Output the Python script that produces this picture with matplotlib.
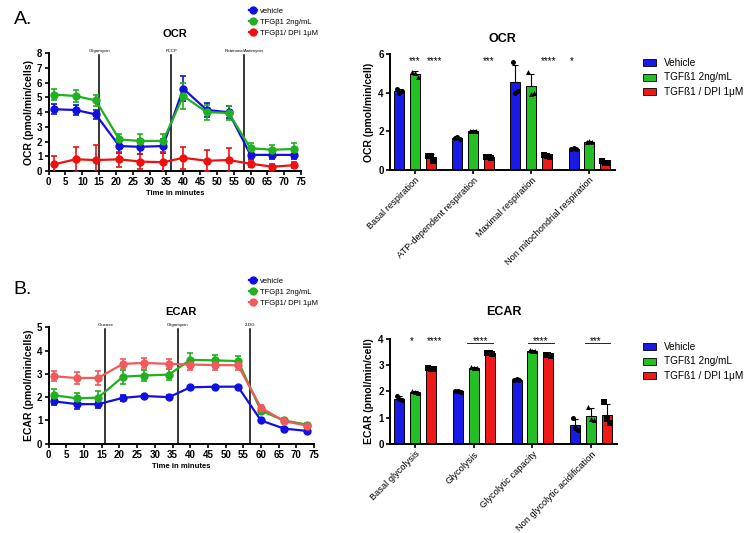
import matplotlib
matplotlib.use("Agg")
import matplotlib.pyplot as plt
from matplotlib.lines import Line2D
from matplotlib.patches import Patch
import numpy as np

plt.rcParams['font.family'] = ['Liberation Sans', 'DejaVu Sans']

# ---------------- data ----------------
time = [1.5, 8, 14, 21, 27, 34, 40, 47, 53.5, 60, 66.5, 73]

ocr_veh = [4.2, 4.15, 3.85, 1.7, 1.65, 1.7, 5.6, 4.15, 4.0, 1.1, 1.1, 1.1]
ocr_veh_err = [0.35, 0.35, 0.3, 0.5, 0.5, 0.5, 0.85, 0.45, 0.4, 0.3, 0.3, 0.3]
ocr_tgf = [5.2, 5.1, 4.8, 2.15, 2.05, 2.05, 5.1, 4.0, 3.95, 1.55, 1.45, 1.5]
ocr_tgf_err = [0.35, 0.4, 0.4, 0.4, 0.45, 0.5, 0.9, 0.5, 0.5, 0.35, 0.35, 0.4]
ocr_dpi = [0.45, 0.8, 0.75, 0.8, 0.65, 0.6, 0.9, 0.7, 0.75, 0.5, 0.3, 0.4]
ocr_dpi_err = [0.6, 0.85, 1.0, 0.5, 0.5, 0.7, 0.75, 0.7, 0.8, 0.2, 0.2, 0.2]

ecar_veh = [1.82, 1.7, 1.7, 1.97, 2.05, 2.0, 2.42, 2.45, 2.45, 1.0, 0.65, 0.55]
ecar_veh_err = [0.15, 0.2, 0.15, 0.12, 0.05, 0.08, 0.05, 0.05, 0.05, 0.05, 0.05, 0.05]
ecar_tgf = [2.08, 1.95, 1.98, 2.88, 2.93, 2.97, 3.6, 3.58, 3.55, 1.42, 1.0, 0.82]
ecar_tgf_err = [0.25, 0.25, 0.3, 0.3, 0.25, 0.25, 0.28, 0.25, 0.2, 0.15, 0.1, 0.08]
ecar_dpi = [2.9, 2.82, 2.83, 3.43, 3.47, 3.43, 3.4, 3.38, 3.37, 1.55, 0.97, 0.78]
ecar_dpi_err = [0.22, 0.25, 0.3, 0.22, 0.22, 0.22, 0.25, 0.2, 0.2, 0.1, 0.08, 0.05]

ocr_inject_t = [15, 36.5, 58]
ocr_inject_lbl = ["Oligomycin", "FCCP", "Rotenone/Antimycin"]
ecar_inject_t = [16, 36.5, 57]
ecar_inject_lbl = ["Glucose", "Oligomycin", "2-DG"]

line_labels = ["vehicle", "TFG\u03b21 2ng/mL", "TFG\u03b21/ DPI 1\u03bcM"]
bar_labels = ["Vehicle", "TGF\u00df1 2ng/mL", "TGF\u00df1 / DPI 1\u03bcM"]

ocr_cats = ["Basal respiration", "ATP-dependent respiration",
            "Maximal respiration", "Non mitochondrial respiration"]
ocr_bar_mean = [[4.1, 1.65, 4.57, 1.1],
                [5.0, 2.03, 4.35, 1.47],
                [0.65, 0.65, 0.75, 0.38]]
ocr_bar_sd = [[0.1, 0.05, 0.9, 0.02],
              [0.15, 0.03, 0.65, 0.03],
              [0.17, 0.05, 0.05, 0.06]]
ocr_bar_pts = [[[4.2, 4.0, 4.1], [1.65, 1.7, 1.6], [5.6, 4.0, 4.1], [1.1, 1.12, 1.08]],
               [[5.1, 5.05, 4.8], [2.05, 2.0, 2.05], [5.1, 3.95, 4.0], [1.45, 1.5, 1.45]],
               [[0.75, 0.75, 0.45], [0.7, 0.65, 0.6], [0.8, 0.75, 0.7], [0.45, 0.35, 0.35]]]

ecar_cats = ["Basal glycolysis", "Glycolysis", "Glycolytic capacity",
             "Non glycolytic acidification"]
ecar_bar_mean = [[1.73, 2.0, 2.45, 0.72],
                 [1.97, 2.9, 3.55, 1.08],
                 [2.87, 3.45, 3.38, 1.12]]
ecar_bar_sd = [[0.1, 0.05, 0.03, 0.25],
               [0.05, 0.05, 0.03, 0.3],
               [0.04, 0.04, 0.04, 0.42]]
ecar_bar_pts = [[[1.83, 1.7, 1.68], [2.02, 2.0, 1.98], [2.45, 2.47, 2.43], [1.0, 0.62, 0.55]],
                [[2.0, 1.97, 1.95], [2.93, 2.9, 2.88], [3.57, 3.55, 3.53], [1.4, 0.95, 0.9]],
                [[2.88, 2.87, 2.86], [3.47, 3.45, 3.43], [3.4, 3.38, 3.36], [1.6, 0.95, 0.8]]]

# ---------------- style ----------------
BLUE = "#1010e0"
GREEN = "#20b020"
RED = "#ee1111"
SALMON = "#f05a5a"
BAR_COLORS = ["#1a1ae6", "#22c022", "#ee1a1a"]

fig = plt.figure(figsize=(7.5, 5.33), dpi=100)


def style_axis(ax, fs=7):
    for s in ["top", "right"]:
        ax.spines[s].set_visible(False)
    for s in ["left", "bottom"]:
        ax.spines[s].set_linewidth(1.4)
    ax.tick_params(direction="out", width=1.2, length=3, labelsize=fs, pad=1.5)
    for lab in ax.get_xticklabels() + ax.get_yticklabels():
        lab.set_fontweight("bold")


def line_panel(rect, series, errs, colors, ymax, inj_t, inj_lbl, title, title_pad,
               ylabel, panel_lbl, panel_y, leg_y):
    ax = fig.add_axes(rect)
    for y, e, c in zip(series, errs, colors):
        ax.errorbar(time, y, yerr=e, color=c, lw=1.6, marker="o", ms=5,
                    capsize=2.5, elinewidth=1.2, capthick=1.2, zorder=3)
    for t, l in zip(inj_t, inj_lbl):
        ax.plot([t, t], [0, ymax * 0.985], color="black", lw=1.1, zorder=2)
        ax.text(t, ymax * 1.0, l, fontsize=3.2, ha="center", va="bottom")
    ax.set_xlim(0, 75)
    ax.set_ylim(0, ymax)
    ax.set_xticks(np.arange(0, 76, 5))
    ax.set_yticks(np.arange(0, ymax + 0.1, 1))
    style_axis(ax)
    ax.set_xlabel("Time in minutes", fontsize=5.5, fontweight="bold", labelpad=2)
    ax.set_ylabel(ylabel, fontsize=7.5, fontweight="bold", labelpad=2)
    ax.set_title(title, fontsize=8, fontweight="bold", pad=title_pad)
    handles = [Line2D([0], [0], color=c, marker="o", ms=5, lw=1.6) for c in colors]
    fig.legend(handles, line_labels, loc="upper left",
               bbox_to_anchor=(244 / 750, leg_y), frameon=False, fontsize=5.5,
               handlelength=1.0, handletextpad=0.4, labelspacing=0.5, borderpad=0.2)
    fig.text(0.018, panel_y, panel_lbl, fontsize=14, va="center")
    return ax


line_panel([0.0649, 0.679, 0.3364, 0.221],
           [ocr_veh, ocr_tgf, ocr_dpi], [ocr_veh_err, ocr_tgf_err, ocr_dpi_err],
           [BLUE, GREEN, RED], 8, ocr_inject_t, ocr_inject_lbl, "OCR", 11.5,
           "OCR (pmol/min/cells)", "A.", 1 - 20 / 533, 1 - 2 / 533)

line_panel([0.0649, 0.1675, 0.3538, 0.2184],
           [ecar_veh, ecar_tgf, ecar_dpi], [ecar_veh_err, ecar_tgf_err, ecar_dpi_err],
           [BLUE, GREEN, SALMON], 5, ecar_inject_t, ecar_inject_lbl, "ECAR", 9,
           "ECAR (pmol/min/cells)", "B.", 1 - 289 / 533, 1 - 272 / 533)

GROUP_STEP = 3.7
BAR_W = 0.64
MARKERS = ["o", "^", "s"]
JIT = [-0.17, 0.0, 0.17]


def bar_panel(rect, cats, means, sds, pts, ymax, ystep, title, title_pad, ylabel, leg_y):
    ax = fig.add_axes(rect)
    centers = np.arange(len(cats)) * GROUP_STEP
    for k in range(3):
        xs = centers + (k - 1)
        ax.bar(xs, means[k], width=BAR_W, color=BAR_COLORS[k], edgecolor="black",
               linewidth=0.7, zorder=2)
        ax.errorbar(xs, means[k], yerr=[np.zeros(len(cats)), sds[k]], fmt="none",
                    ecolor="black", elinewidth=0.8, capsize=2, capthick=0.8, zorder=3)
        for i in range(len(cats)):
            ax.scatter(xs[i] + np.array(JIT), pts[k][i], marker=MARKERS[k], s=13,
                       color="black", zorder=4, linewidths=0)
    ax.set_xlim(-1.59, 12.74)
    ax.set_ylim(0, ymax)
    ax.set_yticks(np.arange(0, ymax + 0.01, ystep))
    ax.set_xticks(centers)
    ax.set_xticklabels(cats, rotation=45, ha="right", rotation_mode="anchor")
    style_axis(ax)
    ax.tick_params(axis="x", pad=1)
    for lab in ax.get_xticklabels():
        lab.set_fontweight("normal")
        lab.set_fontsize(6.7)
    ax.set_ylabel(ylabel, fontsize=7.5, fontweight="bold", labelpad=3)
    ax.set_title(title, fontsize=9, fontweight="bold", pad=title_pad)
    handles = [Patch(facecolor=c, edgecolor="black", linewidth=0.6) for c in BAR_COLORS]
    fig.legend(handles, bar_labels, loc="upper left", bbox_to_anchor=(636 / 750, leg_y),
               frameon=False, fontsize=7.2, handlelength=1.3, handleheight=0.7,
               handletextpad=0.8, labelspacing=0.45, borderpad=0.2)
    return ax, centers


ax3, c3 = bar_panel([0.52, 0.681, 0.30, 0.217], ocr_cats, ocr_bar_mean, ocr_bar_sd,
                    ocr_bar_pts, 6, 2, "OCR", 9, "OCR (pmol/min/cell)", 1 - 51 / 533)
for gi, off, s in [(0, 0.0, "***"), (0, 1.25, "****"), (1, 1.0, "***"),
                   (2, 1.1, "****"), (3, -1.1, "*")]:
    ax3.text(c3[gi] + off, 5.37, s, fontsize=7, ha="center", va="bottom")

ax4, c4 = bar_panel([0.52, 0.167, 0.3027, 0.197], ecar_cats, ecar_bar_mean, ecar_bar_sd,
                    ecar_bar_pts, 4, 1, "ECAR", 17, "ECAR (pmol/min/cell)", 1 - 335 / 533)
for gi, off, s in [(0, -0.2, "*"), (0, 1.2, "****"), (1, 0.4, "****"),
                   (2, 0.5, "****"), (3, 0.3, "***")]:
    ax4.text(c4[gi] + off, 3.74, s, fontsize=7, ha="center", va="bottom")
for gi, a, b in [(1, -0.4, 1.2), (2, -0.3, 1.35), (3, -0.4, 1.2)]:
    ax4.plot([c4[gi] + a, c4[gi] + b], [3.86, 3.86], color="black", lw=0.6, clip_on=False)

fig.savefig("out.png", dpi=100)
